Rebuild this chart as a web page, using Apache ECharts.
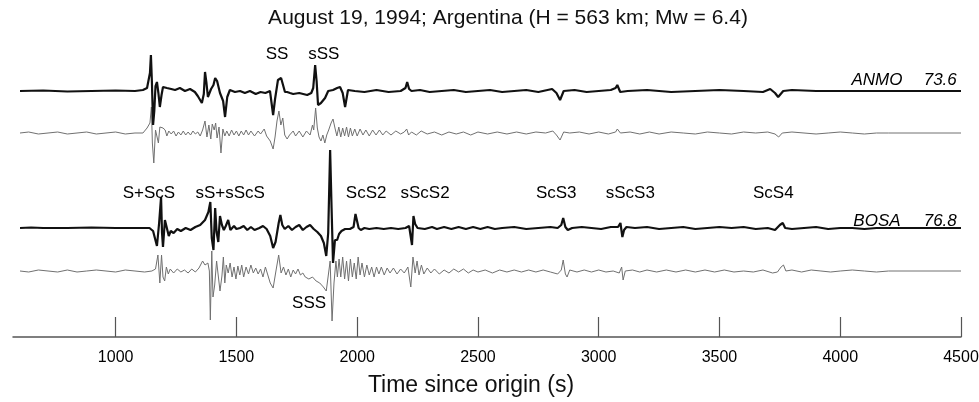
<!DOCTYPE html>
<html>
<head>
<meta charset="utf-8">
<script src="https://cdn.jsdelivr.net/npm/echarts@6/dist/echarts.min.js"></script>
<style>
  html, body { margin: 0; padding: 0; background: #fff; }
  #main { width: 979px; height: 402px; }
</style>
</head>
<body>
<div id="main"></div>
<script>
// time ticks (s)
var tickValues = [1000, 1500, 2000, 2500, 3000, 3500, 4000, 4500];

// trace baselines (vertical offset of each trace)
var offsets = { anmoBlack: 246, anmoGray: 204, bosaBlack: 109, bosaGray: 66 };

// ANMO, thick black trace: [time, amplitude]
var anmoBlack = [[604,0],[700,0.5],[800,-0.5],[900,0],[1000,0.5],[1080,0],[1113,1],[1130,3],[1142,18],[1146,36],[1150,10],[1155,-34],[1160,-20],[1165,5],[1171,9],[1177,-2],[1183,-16],[1190,-4],[1196,4],[1212,3],[1230,2],[1246,1],[1266,3],[1287,0],[1308,2],[1328,-1],[1340,-5],[1357,-12],[1365,-3],[1370,19],[1376,8],[1382,-6],[1395,2],[1405,6],[1412,13],[1420,10],[1432,-2],[1445,-10],[1453,-26],[1462,-6],[1473,1],[1494,-1],[1515,0],[1535,-2],[1556,0],[1580,-3],[1600,-1],[1620,-2],[1639,0],[1652,-24],[1660,-8],[1672,11],[1685,13],[1693,12],[1701,-1],[1710,-1],[1722,-2],[1735,-3],[1760,-2],[1793,-4],[1810,-2],[1818,3],[1826,26],[1832,10],[1838,-14],[1850,-12],[1867,-7],[1880,0],[1900,1],[1917,3],[1929,4],[1940,-2],[1950,-16],[1962,1],[1990,0],[2030,-1],[2080,1],[2130,-1],[2180,0],[2200,3],[2207,9],[2215,2],[2225,0],[2260,1],[2300,-1],[2350,0],[2400,1],[2450,-1],[2500,0],[2550,1],[2600,-1],[2650,0],[2700,1],[2750,-1],[2807,2],[2825,-2],[2840,-9],[2855,0],[2900,1],[2950,-1],[3000,0],[3050,1],[3070,3],[3077,6],[3089,-1],[3120,0],[3200,1],[3300,-1],[3400,0],[3500,1],[3600,0],[3680,-1],[3710,2],[3730,-2],[3743,-6],[3764,0],[3800,1],[3900,0],[4000,0],[4100,0],[4500,0]];

// ANMO, thin gray trace
var anmoGray = [[604,0],[640,1],[680,-1],[720,0],[760,1],[800,-1],[840,0],[880,1],[920,-1],[960,0],[1000,1],[1040,-1],[1080,0],[1113,0],[1130,5],[1142,10],[1148,26],[1152,-10],[1158,-30],[1165,3],[1171,3],[1177,-10],[1183,6],[1190,8],[1196,5],[1205,3],[1212,-3],[1220,2],[1230,-1],[1240,2],[1250,-3],[1260,1],[1270,-2],[1280,2],[1290,-2],[1300,1],[1310,-2],[1320,2],[1330,-1],[1340,1],[1350,-3],[1360,3],[1370,12],[1378,-4],[1386,8],[1394,-6],[1400,9],[1408,3],[1414,10],[1420,-5],[1428,6],[1436,-20],[1444,4],[1452,-3],[1460,2],[1470,-3],[1480,3],[1490,-2],[1500,2],[1510,-3],[1520,2],[1530,-2],[1540,3],[1550,-2],[1560,2],[1575,-3],[1590,2],[1600,-1],[1615,4],[1625,-3],[1640,-8],[1652,-16],[1660,-4],[1668,12],[1676,22],[1684,8],[1692,15],[1700,-2],[1710,-6],[1720,-2],[1735,2],[1745,-3],[1760,2],[1775,-4],[1790,2],[1805,-2],[1815,8],[1820,3],[1828,25],[1835,5],[1842,-4],[1850,-8],[1858,-2],[1866,-10],[1874,-2],[1882,3],[1892,10],[1900,14],[1908,5],[1916,-3],[1924,6],[1932,-4],[1940,5],[1948,-3],[1956,6],[1964,-4],[1972,5],[1980,-3],[1990,4],[2000,-3],[2012,4],[2024,-2],[2036,3],[2050,-3],[2064,3],[2078,-2],[2092,3],[2106,-2],[2120,2],[2140,-2],[2160,2],[2180,-1],[2195,1],[2205,4],[2213,-2],[2225,1],[2245,-2],[2265,2],[2290,-1],[2320,1],[2350,-2],[2380,1],[2410,-1],[2440,1],[2470,-2],[2500,1],[2540,-1],[2580,1],[2620,-1],[2660,1],[2700,-1],[2740,1],[2780,0],[2810,2],[2825,-2],[2840,-7],[2855,1],[2880,0],[2920,1],[2960,-1],[3000,1],[3040,-1],[3070,1],[3077,4],[3090,0],[3130,1],[3170,-1],[3210,1],[3250,-1],[3300,1],[3350,0],[3400,-1],[3450,1],[3500,0],[3550,-1],[3600,1],[3650,0],[3700,1],[3730,-1],[3745,-4],[3760,0],[3800,1],[3850,0],[3900,-1],[3950,0],[4000,1],[4050,0],[4100,-1],[4150,0],[4200,0],[4500,0]];

// BOSA, thick black trace
var bosaBlack = [[604,0],[650,0.5],[700,0],[800,0],[900,0.5],[1000,0],[1100,0],[1140,0],[1155,-3],[1171,-18],[1180,5],[1188,31],[1192,-5],[1196,-19],[1204,8],[1212,10],[1220,-8],[1228,-3],[1240,-5],[1255,-1],[1270,-3],[1290,0],[1310,-2],[1330,1],[1350,3],[1370,8],[1384,16],[1392,26],[1398,-10],[1405,-22],[1412,20],[1418,-4],[1425,-14],[1432,12],[1440,3],[1448,-2],[1456,2],[1466,8],[1475,-2],[1490,2],[1500,-1],[1515,0],[1530,2],[1545,-2],[1560,1],[1575,-2],[1595,0],[1610,2],[1625,-1],[1640,-8],[1652,-20],[1662,-14],[1675,5],[1682,13],[1690,3],[1700,-1],[1715,2],[1730,-2],[1745,1],[1760,3],[1775,-2],[1790,1],[1805,3],[1820,-1],[1835,-4],[1850,-8],[1862,-15],[1872,-28],[1880,-5],[1888,78],[1894,20],[1900,-35],[1908,-12],[1917,-12],[1925,-6],[1935,-3],[1950,-1],[1970,-1],[1985,1],[1993,14],[2000,16],[2006,0],[2015,-2],[2030,0],[2050,-1],[2080,0],[2110,-1],[2140,0],[2170,-1],[2200,0],[2215,2],[2227,-17],[2233,12],[2240,4],[2250,0],[2280,-1],[2310,1],[2330,-1],[2360,1],[2390,-1],[2420,1],[2450,-1],[2480,1],[2510,-1],[2540,1],[2570,-1],[2600,0],[2650,1],[2700,-1],[2750,0],[2800,1],[2830,0],[2845,3],[2853,10],[2862,1],[2872,-2],[2890,0],[2930,1],[2970,0],[3010,-1],[3050,1],[3080,1],[3090,5],[3098,-9],[3105,-2],[3115,1],[3150,0],[3200,1],[3250,-1],[3300,0],[3350,1],[3400,-1],[3450,0],[3500,1],[3550,0],[3600,1],[3650,-1],[3700,0],[3730,-2],[3750,3],[3762,5],[3772,0],[3800,-1],[3850,0],[3900,1],[3950,-1],[4000,0],[4050,0],[4100,-1],[4150,0],[4200,0],[4500,0]];

// BOSA, thin gray trace
var bosaGray = [[604,0],[640,-1],[680,1],[720,0],[760,-1],[800,1],[840,-1],[880,0],[920,1],[960,0],[1000,-1],[1040,1],[1080,0],[1120,-1],[1150,0],[1165,2],[1175,16],[1183,-12],[1190,16],[1196,-6],[1203,-10],[1210,4],[1218,-3],[1226,2],[1240,-2],[1255,2],[1270,-1],[1285,1],[1300,-2],[1315,2],[1330,-1],[1345,3],[1360,10],[1370,6],[1382,8],[1388,0],[1392,-49],[1398,20],[1403,-26],[1410,-14],[1418,10],[1426,12],[1432,-20],[1440,-5],[1446,14],[1452,-12],[1458,6],[1466,-2],[1474,8],[1482,-6],[1490,4],[1498,-8],[1506,5],[1514,-4],[1522,6],[1530,-6],[1540,4],[1550,-3],[1560,6],[1570,-2],[1580,3],[1590,-3],[1600,2],[1610,-6],[1620,4],[1630,-4],[1640,-12],[1652,-17],[1665,2],[1675,16],[1685,-2],[1695,4],[1705,-4],[1715,2],[1725,-6],[1735,1],[1745,-3],[1755,2],[1765,-4],[1775,-2],[1785,-6],[1800,-8],[1815,-6],[1830,-10],[1845,-12],[1860,-16],[1872,-20],[1880,-5],[1888,10],[1896,-50],[1904,-12],[1912,10],[1918,-6],[1925,12],[1932,-6],[1940,14],[1948,-8],[1956,10],[1964,-10],[1972,12],[1980,-6],[1988,8],[1996,-8],[2004,14],[2012,-4],[2020,8],[2030,-6],[2040,6],[2050,-4],[2060,4],[2070,-6],[2080,4],[2090,-3],[2100,4],[2112,-4],[2124,3],[2136,-2],[2150,3],[2165,-3],[2180,2],[2195,-2],[2210,4],[2222,-16],[2231,14],[2240,-2],[2248,10],[2256,-4],[2266,6],[2276,-3],[2290,3],[2305,-2],[2320,2],[2340,-3],[2360,1],[2380,-2],[2400,2],[2420,-1],[2440,2],[2460,-2],[2480,1],[2500,-1],[2530,1],[2560,-2],[2590,1],[2620,-1],[2650,1],[2680,-1],[2710,1],[2740,-1],[2770,1],[2800,-1],[2830,-3],[2845,1],[2853,11],[2862,-3],[2869,-6],[2880,1],[2910,-1],[2940,1],[2970,-1],[3000,1],[3030,-1],[3060,0],[3085,-2],[3095,4],[3101,-9],[3110,0],[3140,1],[3170,-1],[3200,1],[3240,-1],[3280,1],[3320,-1],[3360,1],[3400,-1],[3440,1],[3480,-1],[3520,1],[3560,-1],[3600,0],[3640,-1],[3680,1],[3720,-2],[3740,-1],[3755,4],[3765,6],[3775,0],[3800,1],[3840,-1],[3880,1],[3920,0],[3960,-1],[4000,0],[4050,1],[4100,0],[4150,-1],[4200,0],[4500,0]];

// phase names and where they sit
var phaseNames = ['SS', 'sSS', 'S+ScS', 'sS+sScS', 'ScS2', 'sScS2', 'ScS3', 'sScS3', 'ScS4', 'SSS'];
var phaseTimes = [1668, 1862, 1138, 1474, 2037, 2281, 2824, 3131, 3723, 1801];
var phaseLevels = [283, 283, 144, 144, 144, 144, 144, 144, 144, 34];

// station names and distances (deg)
var stationNames = ['ANMO', 'BOSA'];
var stationDist = ['73.6', '76.8'];
var stationLevels = [257, 116];

var FONT = '"Liberation Sans", Arial, Helvetica, sans-serif';

function shift(trace, off) {
    return trace.map(function (p) { return [p[0], p[1] + off]; });
}

function traceSeries(name, trace, off, color, width) {
    return {
        name: name,
        type: 'line',
        data: shift(trace, off),
        showSymbol: false,
        symbol: 'none',
        lineStyle: { color: color, width: width },
        z: width > 1.5 ? 3 : 2
    };
}

// text-only series (labels placed by data coords)
function labelSeries(data, italic) {
    return {
        type: 'scatter',
        data: data,
        symbolSize: 0,
        silent: true,
        z: 5,
        itemStyle: { color: '#000', opacity: 1 },
        label: {
            show: true,
            position: 'inside',
            formatter: '{b}',
            fontSize: 17,
            fontStyle: italic ? 'italic' : 'normal',
            color: '#000',
            opacity: 1,
            textBorderWidth: 0,
            fontFamily: FONT
        }
    };
}

var phaseData = phaseNames.map(function (n, i) {
    return { value: [phaseTimes[i], phaseLevels[i]], name: n };
});

var stationData = [];
stationNames.forEach(function (n, i) {
    stationData.push({ value: [4152, stationLevels[i]], name: n });
    stationData.push({ value: [4414, stationLevels[i]], name: stationDist[i] });
});

var myChart = echarts.init(document.getElementById('main'));
myChart.setOption({
    animation: false,
    backgroundColor: '#fff',
    textStyle: { fontFamily: FONT },
    grid: { left: 13, right: 18, top: 30, bottom: 65, containLabel: false, outerBoundsMode: 'none' },
    xAxis: {
        type: 'value',
        min: 575,
        max: 4500,
        splitLine: { show: false },
        axisLine: { lineStyle: { color: '#555', width: 1.5 } },
        axisTick: {
            inside: true,
            length: 20,
            customValues: tickValues,
            lineStyle: { color: '#555', width: 1.2 }
        },
        axisLabel: {
            customValues: tickValues,
            formatter: function (v) { return String(v); },
            fontSize: 16,
            color: '#000',
            margin: 13,
            fontFamily: FONT
        }
    },
    yAxis: { type: 'value', min: 0, max: 307, show: false },
    series: [
        traceSeries('ANMO gray', anmoGray, offsets.anmoGray, '#707070', 1),
        traceSeries('BOSA gray', bosaGray, offsets.bosaGray, '#707070', 1),
        traceSeries('ANMO', anmoBlack, offsets.anmoBlack, '#111', 2.2),
        traceSeries('BOSA', bosaBlack, offsets.bosaBlack, '#111', 2.2),
        labelSeries(phaseData, false),
        labelSeries(stationData, true)
    ],
    graphic: [
        {
            type: 'text', x: 508, y: 18, silent: true,
            style: {
                text: 'August 19, 1994; Argentina (H = 563 km; Mw = 6.4)',
                font: '21px ' + FONT, fill: '#111',
                align: 'center', verticalAlign: 'middle'
            }
        },
        {
            type: 'text', x: 471, y: 386, silent: true,
            style: {
                text: 'Time since origin (s)',
                font: '23px ' + FONT, fill: '#111',
                align: 'center', verticalAlign: 'middle'
            }
        }
    ]
});
</script>
</body>
</html>
